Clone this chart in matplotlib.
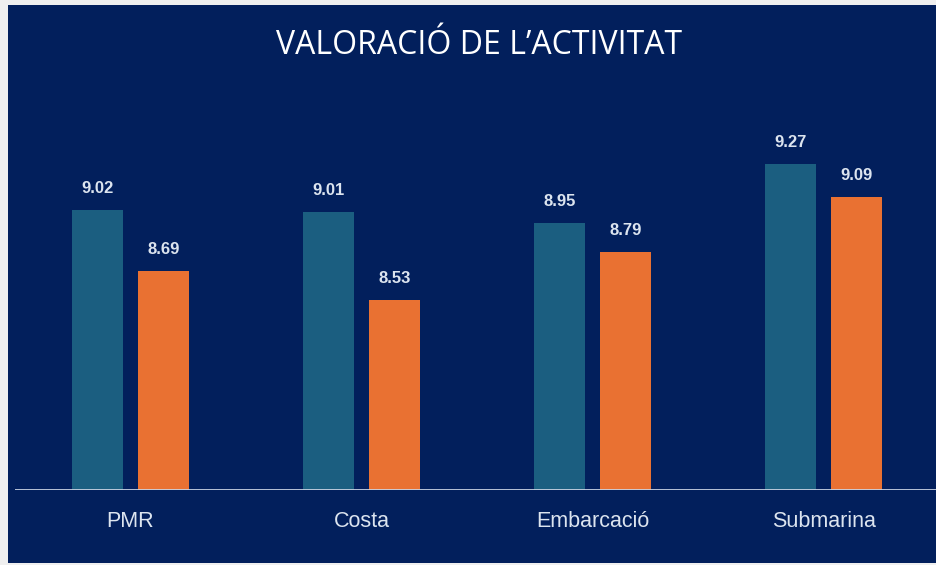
import matplotlib
matplotlib.use("Agg")
import matplotlib.pyplot as plt
from matplotlib.patches import Rectangle
import numpy as np

# Valoració per activitat (dues sèries)
categories = ["PMR", "Costa", "Embarcació", "Submarina"]
serie_a = [9.02, 9.01, 8.95, 9.27]
serie_b = [8.69, 8.53, 8.79, 9.09]

navy = "#021F5C"
teal = "#1B5E80"
orange = "#E97132"
text_col = "#DCE4EF"

W, H = 937, 565
fig = plt.figure(figsize=(W / 100, H / 100), dpi=100)
fig.patch.set_facecolor("#EFEFEF")

# fons blau del panell, per sota dels eixos
fig.add_artist(Rectangle((8 / W, 2 / H), 1 - 8 / W, (H - 7) / H,
                         transform=fig.transFigure, facecolor=navy,
                         edgecolor="none", zorder=-5))

fig.text(479 / W, 1 - 45 / H, "VALORACIÓ DE L’ACTIVITAT", ha="center", va="center",
         color="white", fontsize=23, family="Open Sans")

ax = fig.add_axes([15 / W, 1 - 490 / H, 922 / W, (490 - 81) / H])
ax.set_facecolor("none")
ax.set_zorder(1)

x = np.arange(len(categories))
w = 0.22
off = 0.143
ba = ax.bar(x - off, serie_a, w, color=teal)
bb = ax.bar(x + off, serie_b, w, color=orange)

ax.set_xlim(-0.5, 3.49)
ax.set_ylim(7.5, 9.72)

for rects, vals in ((ba, serie_a), (bb, serie_b)):
    for r, v in zip(rects, vals):
        ax.annotate(f"{v:.2f}", (r.get_x() + r.get_width() / 2, v),
                    xytext=(0, 10), textcoords="offset points",
                    ha="center", va="bottom", color=text_col,
                    fontsize=12, fontweight="bold", family="Liberation Sans")

for s in ax.spines.values():
    s.set_visible(False)
ax.axhline(7.5, color="#C9D2E2", lw=2, zorder=3)

ax.set_yticks([])
ax.set_xticks(x)
ax.set_xticklabels(categories, color=text_col, fontsize=15.5, family="Liberation Sans")
ax.tick_params(axis="x", length=0, pad=15)

fig.savefig("out.png", dpi=100, facecolor=fig.get_facecolor())
